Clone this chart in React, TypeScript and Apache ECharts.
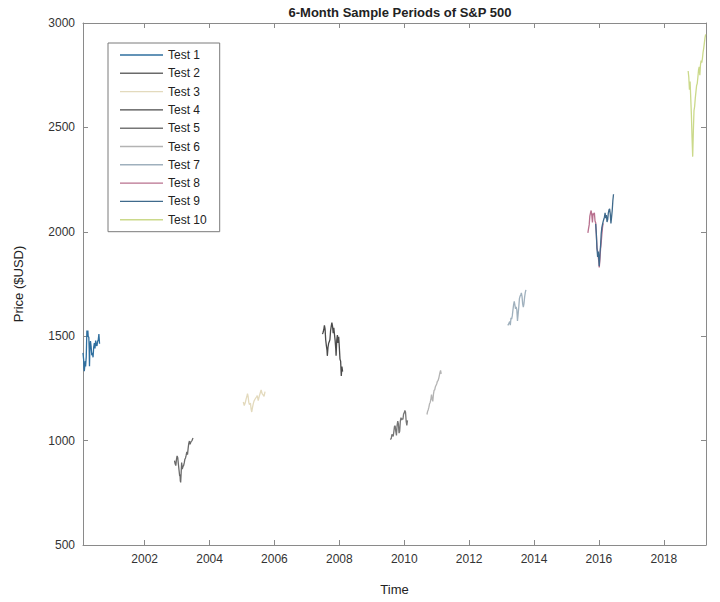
import React, { useEffect, useRef } from "react";
import * as echarts from "echarts";

const title = "6-Month Sample Periods of S&P 500";
const seriesNames = ["Test 1", "Test 2", "Test 3", "Test 4", "Test 5", "Test 6", "Test 7", "Test 8", "Test 9", "Test 10"];
const seriesColors = ["#2f6f9f", "#6a6a6a", "#e3dabd", "#4a4a4a", "#767676", "#b3b3b3", "#9fb0bd", "#b8708e", "#3f6a8c", "#cbd98a"];
const xTickValues = [2002, 2004, 2006, 2008, 2010, 2012, 2014, 2016, 2018];

const test1 = [[2000.10,1420],[2000.12,1387],[2000.13,1346],[2000.14,1333],[2000.16,1366],[2000.17,1381],[2000.18,1355],[2000.20,1401],[2000.21,1464],[2000.22,1527],[2000.24,1498],[2000.25,1527],[2000.26,1499],[2000.28,1494],[2000.29,1441],[2000.30,1356],[2000.31,1427],[2000.33,1477],[2000.35,1452],[2000.37,1409],[2000.39,1420],[2000.41,1399],[2000.43,1448],[2000.45,1467],[2000.47,1441],[2000.49,1479],[2000.51,1456],[2000.53,1454],[2000.55,1475],[2000.57,1481],[2000.59,1510],[2000.61,1464]];
const test2 = [[2002.92,904],[2002.94,889],[2002.96,880],[2002.98,909],[2003.00,927],[2003.02,918],[2003.04,887],[2003.06,858],[2003.07,856],[2003.08,829],[2003.09,837],[2003.10,807],[2003.11,800],[2003.13,862],[2003.14,895],[2003.16,863],[2003.18,876],[2003.20,880],[2003.22,893],[2003.24,911],[2003.26,917],[2003.28,930],[2003.30,946],[2003.32,933],[2003.34,963],[2003.36,987],[2003.38,998],[2003.40,982],[2003.43,995],[2003.46,1000],[2003.49,1012]];
const test3 = [[2005.04,1185],[2005.07,1168],[2005.10,1181],[2005.13,1201],[2005.15,1211],[2005.17,1225],[2005.19,1210],[2005.21,1183],[2005.23,1172],[2005.26,1180],[2005.28,1152],[2005.30,1137],[2005.32,1156],[2005.35,1178],[2005.37,1189],[2005.40,1198],[2005.42,1197],[2005.45,1210],[2005.47,1216],[2005.50,1191],[2005.53,1211],[2005.56,1227],[2005.59,1243],[2005.62,1225],[2005.65,1219],[2005.68,1212],[2005.71,1235]];
const test4 = [[2007.48,1510],[2007.50,1519],[2007.52,1531],[2007.54,1552],[2007.56,1535],[2007.58,1482],[2007.60,1455],[2007.62,1433],[2007.63,1406],[2007.65,1446],[2007.67,1466],[2007.69,1473],[2007.71,1484],[2007.73,1526],[2007.75,1547],[2007.77,1565],[2007.79,1548],[2007.81,1515],[2007.83,1540],[2007.85,1509],[2007.87,1480],[2007.89,1440],[2007.90,1407],[2007.92,1481],[2007.94,1505],[2007.96,1468],[2007.98,1497],[2008.00,1447],[2008.02,1390],[2008.04,1380],[2008.06,1310],[2008.08,1355],[2008.10,1330]];
const test5 = [[2009.57,1005],[2009.60,1010],[2009.62,1030],[2009.64,1026],[2009.66,1020],[2009.68,1043],[2009.70,1068],[2009.72,1071],[2009.74,1044],[2009.76,1025],[2009.78,1072],[2009.80,1093],[2009.82,1080],[2009.84,1036],[2009.86,1045],[2009.88,1093],[2009.90,1110],[2009.92,1098],[2009.94,1106],[2009.96,1102],[2009.98,1127],[2010.00,1133],[2010.02,1144],[2010.04,1136],[2010.06,1092],[2010.08,1073],[2010.10,1097]];
const test6 = [[2010.70,1125],[2010.72,1140],[2010.74,1148],[2010.76,1160],[2010.78,1176],[2010.80,1183],[2010.82,1197],[2010.84,1220],[2010.86,1199],[2010.88,1188],[2010.90,1221],[2010.92,1241],[2010.94,1243],[2010.96,1258],[2010.98,1257],[2011.00,1271],[2011.02,1283],[2011.04,1287],[2011.06,1296],[2011.08,1310],[2011.10,1325],[2011.12,1336],[2011.14,1320]];
const test7 = [[2013.19,1552],[2013.21,1556],[2013.23,1563],[2013.25,1570],[2013.27,1553],[2013.29,1588],[2013.31,1582],[2013.33,1597],[2013.35,1625],[2013.37,1650],[2013.39,1667],[2013.41,1650],[2013.43,1631],[2013.45,1640],[2013.47,1626],[2013.49,1573],[2013.51,1606],[2013.53,1640],[2013.55,1680],[2013.57,1692],[2013.59,1697],[2013.61,1707],[2013.63,1691],[2013.65,1655],[2013.67,1639],[2013.69,1656],[2013.71,1687],[2013.73,1709],[2013.75,1722]];
const test8 = [[2015.66,1995],[2015.68,2015],[2015.70,2033],[2015.72,2075],[2015.74,2090],[2015.76,2102],[2015.78,2081],[2015.80,2045],[2015.82,2089],[2015.84,2080],[2015.86,2091],[2015.88,2052],[2015.90,2043],[2015.92,1990],[2015.94,1922],[2015.96,1906],[2015.98,1880],[2016.00,1852],[2016.01,1829],[2016.03,1865],[2016.05,1917],[2016.07,1948],[2016.09,1986],[2016.11,2020],[2016.13,2040]];
const test9 = [[2015.90,2038],[2015.92,1990],[2015.94,1920],[2015.96,1880],[2015.98,1906],[2016.00,1860],[2016.01,1835],[2016.03,1895],[2016.05,1930],[2016.07,1990],[2016.09,2020],[2016.11,2035],[2016.13,2049],[2016.15,2060],[2016.17,2070],[2016.19,2091],[2016.21,2065],[2016.23,2080],[2016.25,2047],[2016.27,2058],[2016.29,2090],[2016.31,2105],[2016.33,2110],[2016.35,2085],[2016.37,2040],[2016.39,2070],[2016.41,2102],[2016.43,2150],[2016.45,2180]];
const test10 = [[2018.75,2770],[2018.77,2740],[2018.79,2680],[2018.81,2720],[2018.83,2640],[2018.85,2560],[2018.87,2450],[2018.89,2360],[2018.91,2480],[2018.93,2580],[2018.95,2600],[2018.97,2640],[2018.99,2670],[2019.01,2700],[2019.03,2710],[2019.05,2740],[2019.07,2775],[2019.09,2790],[2019.11,2750],[2019.13,2800],[2019.15,2820],[2019.17,2810],[2019.19,2830],[2019.21,2860],[2019.23,2880],[2019.25,2905],[2019.27,2930],[2019.29,2945]];

const allTests = [test1, test2, test3, test4, test5, test6, test7, test8, test9, test10];

const FONT = "Liberation Sans";

export default function App() {
  const ref = useRef<HTMLDivElement>(null);
  useEffect(() => {
    if (!ref.current) return;
    const chart = echarts.init(ref.current, null, { renderer: "svg" });
    const axisLine = { show: true, lineStyle: { color: "#8a8a8a", width: 1 } };
    const tickStyle = { show: true, inside: true, length: 5, lineStyle: { color: "#8a8a8a" } };
    chart.setOption({
      animation: false,
      backgroundColor: "#ffffff",
      title: {
        text: title,
        left: 395,
        textAlign: "center",
        top: 1,
        textStyle: { fontFamily: FONT, fontSize: 13, fontWeight: "bold", color: "#222" },
      },
      legend: {
        orient: "vertical",
        left: 108,
        top: 43,
        padding: [6, 13, 6, 12],
        icon: "rect",
        itemWidth: 43,
        itemHeight: 1.4,
        itemGap: 6.3,
        borderColor: "#7a7a7a",
        borderWidth: 1,
        backgroundColor: "#fff",
        textStyle: { fontFamily: FONT, fontSize: 12, color: "#222" },
        data: seriesNames,
      },
      grid: { left: 83, right: 14, top: 23, bottom: 57, containLabel: false },
      xAxis: [
        {
          type: "value",
          min: 2000.1,
          max: 2019.3,
          name: "Time",
          nameLocation: "middle",
          nameGap: 38,
          nameTextStyle: { fontFamily: FONT, fontSize: 13, color: "#222" },
          axisLine,
          axisTick: { ...tickStyle, customValues: xTickValues },
          axisLabel: { customValues: xTickValues, fontFamily: FONT, fontSize: 12, color: "#333", margin: 8, formatter: (v: number) => String(Math.round(v)) },
          splitLine: { show: false },
        },
        {
          type: "value",
          position: "top",
          min: 2000.1,
          max: 2019.3,
          axisLine,
          axisTick: { ...tickStyle, customValues: xTickValues },
          axisLabel: { show: false, customValues: xTickValues },
          splitLine: { show: false },
        },
      ],
      yAxis: [
        {
          type: "value",
          min: 500,
          max: 3000,
          interval: 500,
          name: "Price ($USD)",
          nameLocation: "middle",
          nameGap: 58,
          nameTextStyle: { fontFamily: FONT, fontSize: 13, color: "#222" },
          axisLine,
          axisTick: tickStyle,
          axisLabel: { fontFamily: FONT, fontSize: 12, color: "#333", margin: 8, formatter: (v: number) => String(v) },
          splitLine: { show: false },
        },
        {
          type: "value",
          position: "right",
          min: 500,
          max: 3000,
          interval: 500,
          axisLine,
          axisTick: tickStyle,
          axisLabel: { show: false },
          splitLine: { show: false },
        },
      ],
      series: allTests.map((d, i) => ({
        name: seriesNames[i],
        type: "line",
        data: d,
        symbol: "none",
        showSymbol: false,
        lineStyle: { width: 1.3, color: seriesColors[i] },
        itemStyle: { color: seriesColors[i] },
      })),
    });
    return () => chart.dispose();
  }, []);
  return <div ref={ref} style={{ width: 720, height: 602, position: "absolute", left: 0, top: 0 }} />;
}
